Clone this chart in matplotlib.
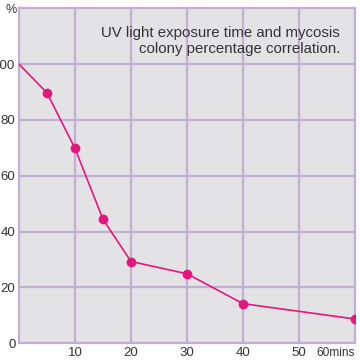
import matplotlib
matplotlib.use('Agg')
import matplotlib.pyplot as plt

# exposure time in minutes and remaining colony percentage
minutes = [0, 5, 10, 15, 20, 30, 40, 60]
colony_pct = [100, 89.7, 69.8, 44.4, 29.3, 24.9, 14.2, 8.7]
x_ticks = [10, 20, 30, 40, 50, 60]
x_labels = ['10', '20', '30', '40', '50', '60mins']
y_ticks = [0, 20, 40, 60, 80, 100]

plt.rcParams['font.family'] = ['Liberation Sans', 'DejaVu Sans']

fig = plt.figure(figsize=(3.6, 3.6), dpi=100)
ax = fig.add_axes([19 / 360, 1 - 343.3 / 360, 336 / 360, 335 / 360])
ax.set_facecolor('#e3e3e5')

grid_col = '#c2b0d4'
ax.set_xlim(0, 60)
ax.set_ylim(0, 120)
ax.set_xticks(x_ticks)
ax.set_xticklabels(x_labels)
ax.set_yticks(y_ticks)
ax.grid(True, color=grid_col, linewidth=1.6)
ax.set_axisbelow(True)
for s in ax.spines.values():
    s.set_color(grid_col)
    s.set_linewidth(1.6)
ax.tick_params(length=0, labelsize=9.5, colors='#333333')
ax.tick_params(axis='x', pad=3)
ax.tick_params(axis='y', pad=2.6)
last = ax.get_xticklabels()[-1]
last.set_horizontalalignment('right')
last.set_fontsize(8.6)

ax.plot(minutes, colony_pct, color='#e5177e', linewidth=1.2, zorder=3)
ax.plot(minutes[1:], colony_pct[1:], 'o', color='#e5177e', markersize=6, zorder=4)

fig.text(5 / 360, 1 - 10 / 360, '%', fontsize=9, color='#333333', va='center')
ax.text(0.955, 0.948, 'UV light exposure time and mycosis\ncolony percentage correlation.',
        transform=ax.transAxes, ha='right', va='top', fontsize=10.8,
        color='#333333', linespacing=1.18)

fig.savefig('out.png', dpi=100)
